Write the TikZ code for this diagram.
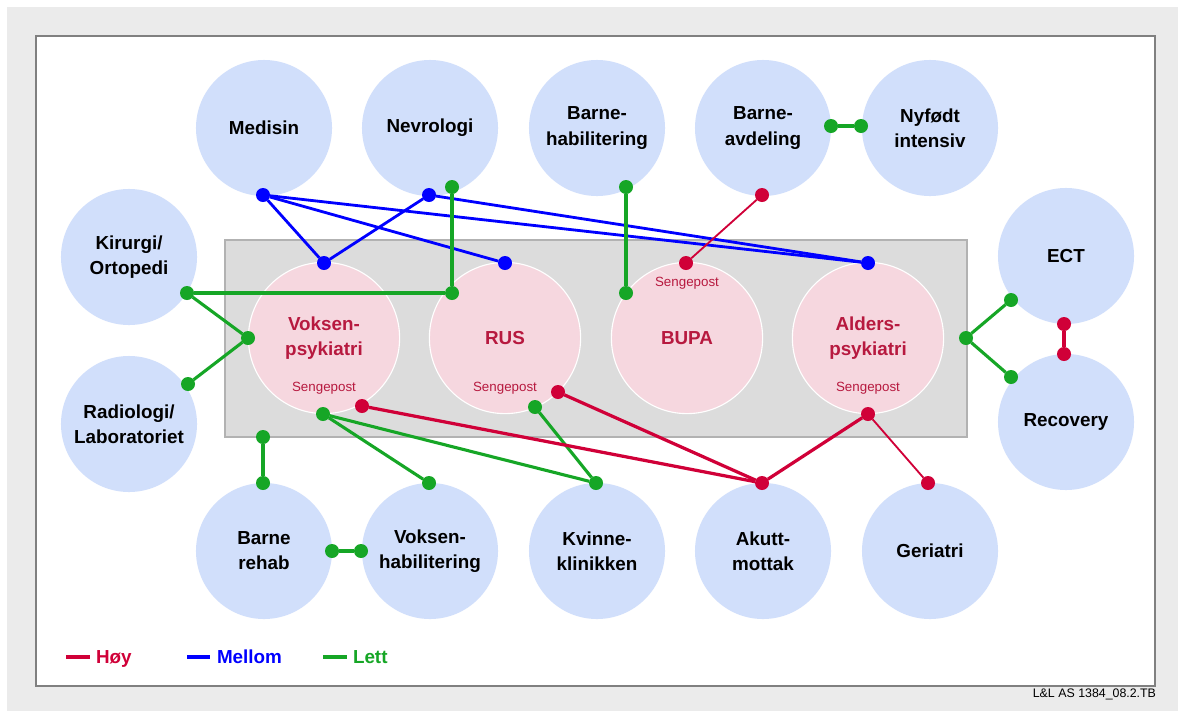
\documentclass[tikz,border=0pt]{standalone}
\usepackage{fontspec}
\setmainfont{Liberation Sans}
\definecolor{bggray}{RGB}{235,235,235}
\definecolor{boxgray}{RGB}{128,128,128}
\definecolor{postgray}{RGB}{220,220,220}
\definecolor{postedge}{RGB}{178,178,178}
\definecolor{avdblue}{RGB}{209,223,251}
\definecolor{psykpink}{RGB}{246,215,223}
\definecolor{psyktext}{RGB}{183,25,63}
\definecolor{hoyred}{RGB}{208,0,56}
\definecolor{mellomblue}{RGB}{0,0,255}
\definecolor{lettgreen}{RGB}{22,166,38}
\begin{document}
\begin{tikzpicture}[x=0.025cm,y=-0.025cm,inner sep=0pt,outer sep=0pt,
avd/.style={circle,fill=avdblue,minimum size=3.4cm,align=center,font=\fontsize{13.4}{17.8}\selectfont\bfseries},
psyk/.style={circle,fill=psykpink,draw=white,line width=0.8pt,minimum size=3.78cm,align=center,text=psyktext,font=\fontsize{13.4}{17.8}\selectfont\bfseries},
seng/.style={text=psyktext,font=\fontsize{9.5}{11}\selectfont},
rdot/.style={circle,fill=hoyred,minimum size=0.35cm},
bdot/.style={circle,fill=mellomblue,minimum size=0.35cm},
gdot/.style={circle,fill=lettgreen,minimum size=0.35cm},
hoy/.style={draw=hoyred,line width=2.3pt},
hoytynn/.style={draw=hoyred,line width=1.3pt},
mellom/.style={draw=mellomblue,line width=2pt},
lett/.style={draw=lettgreen,line width=2.2pt},
legtext/.style={anchor=base west,font=\fontsize{13.4}{16}\selectfont\bfseries}]
\useasboundingbox (0,0) rectangle (1178,711);
\fill[bggray] (7,7) rectangle (1178,711);
\draw[boxgray,line width=1.5pt,fill=white] (36,36) rectangle (1155,686);
\draw[postedge,fill=postgray,line width=0.8pt] (225,240) rectangle (967,437);
\draw (1156,694) node[anchor=east,font=\fontsize{8.8}{10}\selectfont] (ref) {L\&L AS 1384\_08.2.TB};
% avdelinger
\draw (264,128) node[avd] (med) {Medisin};
\draw (430,128) node[avd] (nev) {Nevrologi};
\draw (597,128) node[avd] (bhab) {Barne-\\habilitering};
\draw (763,128) node[avd] (bav) {Barne-\\avdeling};
\draw (930,128) node[avd] (nyf) {Nyfødt\\intensiv};
\draw (129,257) node[avd] (kir) {Kirurgi/\\Ortopedi};
\draw (129,424) node[avd] (rad) {Radiologi/\\Laboratoriet};
\draw (1066,256) node[avd] (ect) {ECT};
\draw (1066,422) node[avd] (rec) {Recovery};
\draw (264,551) node[avd] (breh) {Barne\\rehab};
\draw (430,551) node[avd] (vhab) {Voksen-\\habilitering};
\draw (597,551) node[avd] (kvi) {Kvinne-\\klinikken};
\draw (763,551) node[avd] (aku) {Akutt-\\mottak};
\draw (930,551) node[avd] (ger) {Geriatri};
% psykiatri
\draw (324,338) node[psyk] (vok) {Voksen-\\psykiatri};
\draw (505,338) node[psyk] (rus) {RUS};
\draw (687,338) node[psyk] (bup) {BUPA};
\draw (868,338) node[psyk] (ald) {Alders-\\psykiatri};
\draw (324,388) node[seng] (vokS) {Sengepost};
\draw (505,388) node[seng] (rusS) {Sengepost};
\draw (687,283) node[seng] (bupS) {Sengepost};
\draw (868,388) node[seng] (aldS) {Sengepost};
% punkter
\draw (263,195) node[bdot] (medB) {};
\draw (429,195) node[bdot] (nevB) {};
\draw (324,263) node[bdot] (vokB) {};
\draw (505,263) node[bdot] (rusB) {};
\draw (868,263) node[bdot] (aldB) {};
\draw (452,187) node[gdot] (nevG) {};
\draw (452,293) node[gdot] (rusG) {};
\draw (187,293) node[gdot] (kirG) {};
\draw (248,338) node[gdot] (vokG) {};
\draw (188,384) node[gdot] (radG) {};
\draw (626,187) node[gdot] (bhabG) {};
\draw (626,293) node[gdot] (bupG) {};
\draw (831,126) node[gdot] (bavG) {};
\draw (861,126) node[gdot] (nyfG) {};
\draw (966,338) node[gdot] (aldG) {};
\draw (1011,300) node[gdot] (ectG) {};
\draw (1011,377) node[gdot] (recG) {};
\draw (263,437) node[gdot] (postG) {};
\draw (263,483) node[gdot] (brehG) {};
\draw (332,551) node[gdot] (brehG2) {};
\draw (361,551) node[gdot] (vhabG2) {};
\draw (429,483) node[gdot] (vhabG) {};
\draw (323,414) node[gdot] (vokG2) {};
\draw (596,483) node[gdot] (kviG) {};
\draw (535,407) node[gdot] (rusG2) {};
\draw (762,195) node[rdot] (bavR) {};
\draw (686,263) node[rdot] (bupR) {};
\draw (362,406) node[rdot] (vokR) {};
\draw (558,392) node[rdot] (rusR) {};
\draw (762,483) node[rdot] (akuR) {};
\draw (868,414) node[rdot] (aldR) {};
\draw (928,483) node[rdot] (gerR) {};
\draw (1064,324) node[rdot] (ectR) {};
\draw (1064,354) node[rdot] (recR) {};
% mellom
\draw[mellom] (medB) -- (vokB);
\draw[mellom] (medB) -- (rusB);
\draw[mellom] (medB) -- (aldB);
\draw[mellom] (nevB) -- (vokB);
\draw[mellom] (nevB) -- (aldB);
% lett
\draw[lett] (nevG) -- (rusG);
\draw[lett] (kirG) -- (rusG);
\draw[lett] (kirG) -- (vokG);
\draw[lett] (radG) -- (vokG);
\draw[lett] (bhabG) -- (bupG);
\draw[lett] (bavG) -- (nyfG);
\draw[lett] (aldG) -- (ectG);
\draw[lett] (aldG) -- (recG);
\draw[lett] (postG) -- (brehG);
\draw[lett] (brehG2) -- (vhabG2);
\draw[lett] (vokG2) -- (vhabG);
\draw[lett] (vokG2) -- (kviG);
\draw[lett] (rusG2) -- (kviG);
% hoy
\draw[hoytynn] (bavR) -- (bupR);
\draw[hoy] (vokR) -- (akuR);
\draw[hoy] (rusR) -- (akuR);
\draw[hoy] (aldR) -- (akuR);
\draw[hoytynn] (aldR) -- (gerR);
\draw[hoy] (ectR) -- (recR);
% forklaring
\draw[hoy,line width=2.8pt] (66,657) -- (90,657);
\draw (96,663) node[legtext,text=hoyred] (legHoy) {Høy};
\draw[mellom,line width=2.8pt] (187,657) -- (210,657);
\draw (217,663) node[legtext,text=mellomblue] (legMellom) {Mellom};
\draw[lett,line width=2.8pt] (323,657) -- (347,657);
\draw (353,663) node[legtext,text=lettgreen] (legLett) {Lett};
\end{tikzpicture}
\end{document}
